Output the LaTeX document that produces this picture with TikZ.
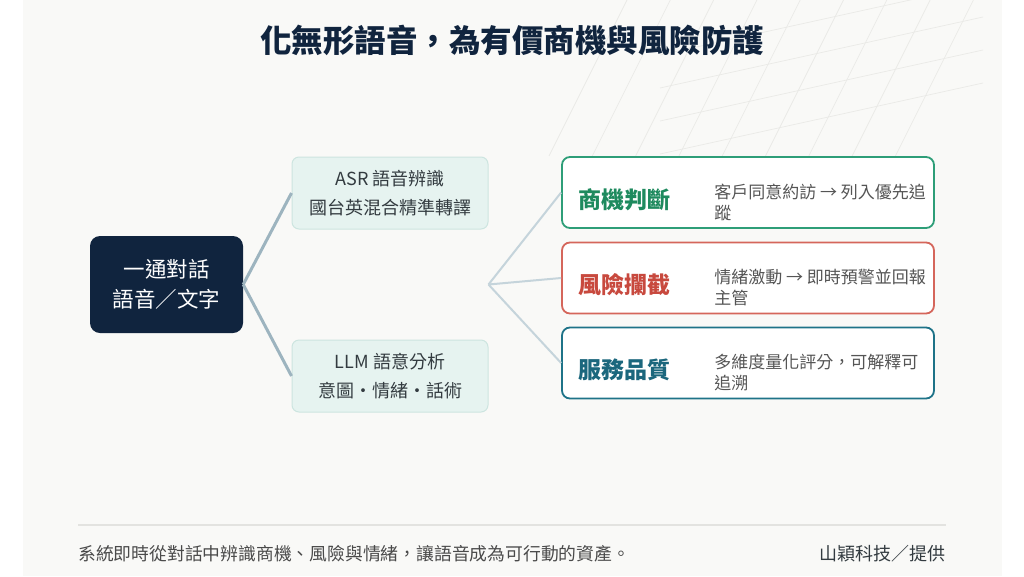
\documentclass[tikz,border=0pt]{standalone}
\usepackage{fontspec}
\setmainfont{Noto Sans CJK TC}
\usetikzlibrary{positioning,calc}

\definecolor{panelbg}{HTML}{F9F9F7}
\definecolor{gridline}{HTML}{EAEAE7}
\definecolor{navy}{HTML}{10243E}
\definecolor{stepfill}{HTML}{E6F3F0}
\definecolor{stepline}{HTML}{CDE5E0}
\definecolor{bodygray}{HTML}{333B40}
\definecolor{descgray}{HTML}{555555}
\definecolor{trunkcol}{HTML}{9DB4BF}
\definecolor{fancol}{HTML}{C5D4DB}
\definecolor{oppgreen}{HTML}{2E9E78}
\definecolor{oppgreentxt}{HTML}{1E8A5E}
\definecolor{riskred}{HTML}{D5665B}
\definecolor{riskredtxt}{HTML}{C8493E}
\definecolor{qualteal}{HTML}{1E7388}
\definecolor{qualtealtxt}{HTML}{1B677D}
\definecolor{footgray}{HTML}{4A4A4A}
\definecolor{rulecol}{HTML}{E3E3E0}

\begin{document}
\begin{tikzpicture}[x=1pt,y=-1pt,
    talkbox/.style={fill=navy, rounded corners=10pt, minimum width=153pt, minimum height=97pt,
      text=white, align=center, font=\fontsize{21.5}{30}\selectfont},
    stepbox/.style={fill=stepfill, draw=stepline, line width=1pt, rounded corners=7pt,
      minimum width=196pt, minimum height=72pt, text=bodygray, align=center,
      font=\fontsize{18}{29}\selectfont},
    outbox/.style={fill=white, line width=1.8pt, rounded corners=8pt,
      minimum width=372pt, minimum height=71pt},
    headtext/.style={inner sep=0pt, anchor=west, font=\fontsize{23}{28}\selectfont\bfseries},
    desctext/.style={inner sep=0pt, anchor=west, align=left, text=descgray,
      font=\fontsize{17}{21}\selectfont},
    trunk/.style={draw=trunkcol, line width=3pt},
    fan/.style={draw=fancol, line width=2pt}]

  \useasboundingbox (0,0) rectangle (1024,576);
  \fill[white] (0,0) rectangle (1024,576);
  \fill[panelbg] (23,0) rectangle (1002,576);

  % grid in the corner
  \begin{scope}[draw=gridline, line width=0.7pt]
    \clip (500,0) rectangle (983,185);
    \foreach \i in {0,...,3}
      \draw (660,55+33*\i) -- (983,-16+33*\i);
    \foreach \k in {0,...,8}
      \draw (627+43.3*\k,0) -- (627+43.3*\k-78,156);
  \end{scope}

  \node[text=navy, font=\fontsize{31.5}{36}\selectfont\bfseries] (title) at (512,40)
    {化無形語音，為有價商機與風險防護};

  % % % % % % % % % % % % % % % % % % % % % % % % % %

  \node[talkbox] (talk) at (166.5,284.5) {一通對話\\語音／文字};
  \node[stepbox] (asr) at (390,193) {ASR 語音辨識\\國台英混合精準轉譯};
  \node[stepbox] (llm) at (390,376) {LLM 語意分析\\意圖・情緒・話術};

  \node[outbox, draw=oppgreen] (opp) at (748,192.5) {};
  \node[outbox, draw=riskred] (risk) at (748,278) {};
  \node[outbox, draw=qualteal] (qual) at (748,363) {};

  \coordinate (hub) at (asr.east |- talk.east);

  \draw[trunk] (talk.east) -- (asr.west);
  \draw[trunk] (talk.east) -- (llm.west);
  \draw[fan] (hub) -- (opp.west);
  \draw[fan] (hub) -- (risk.west);
  \draw[fan] (hub) -- (qual.west);

  \node[headtext, text=oppgreentxt] (opphead) at ($(opp.west)+(17,7)$) {商機判斷};
  \node[desctext] (oppdesc) at ($(opp.west)+(153,10)$) {客戶同意約訪 → 列入優先追\\蹤};
  \node[headtext, text=riskredtxt] (riskhead) at ($(risk.west)+(17,7)$) {風險攔截};
  \node[desctext] (riskdesc) at ($(risk.west)+(153,10)$) {情緒激動 → 即時預警並回報\\主管};
  \node[headtext, text=qualtealtxt] (qualhead) at ($(qual.west)+(17,7)$) {服務品質};
  \node[desctext] (qualdesc) at ($(qual.west)+(153,10)$) {多維度量化評分，可解釋可\\追溯};

  % footer
  \coordinate (ruleL) at (78,525);
  \coordinate (ruleR) at (946,525);
  \draw[rulecol, line width=1.2pt] (ruleL) -- (ruleR);
  \node[inner sep=0pt, anchor=west, text=footgray, font=\fontsize{17.8}{22}\selectfont] (note)
    at ($(ruleL)+(0,29)$) {系統即時從對話中辨識商機、風險與情緒，讓語音成為可行動的資產。};
  \node[inner sep=0pt, anchor=east, text=bodygray, font=\fontsize{18}{22}\selectfont] (credit)
    at ($(ruleR)+(0,29)$) {山穎科技／提供};
\end{tikzpicture}
\end{document}
